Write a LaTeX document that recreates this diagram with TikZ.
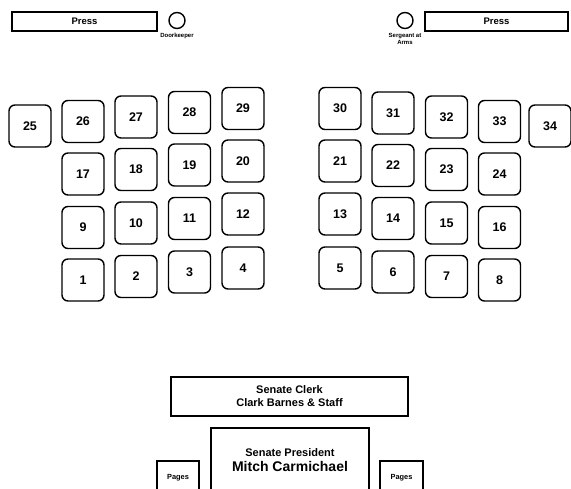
\documentclass[tikz,border=0pt]{standalone}
\usepackage{fontspec}
\setmainfont{Liberation Sans}
\usepackage{tikz}
\usetikzlibrary{positioning}

\begin{document}
\begin{tikzpicture}[x=1pt, y=-1pt,
        seat/.style={rectangle, draw=black, line width=1.4pt, rounded corners=6pt, minimum width=42pt, minimum height=42pt, inner sep=0pt, font=\fontsize{12.5}{14}\selectfont\bfseries},
        press/.style={rectangle, draw=black, line width=1.6pt, minimum height=19pt, inner sep=0pt, font=\fontsize{9.5}{11}\selectfont\bfseries},
        guard/.style={circle, draw=black, line width=1.4pt, minimum size=16pt, inner sep=0pt},
        tag/.style={align=center, inner sep=0pt, font=\fontsize{6}{6.5}\selectfont\bfseries},
        desk/.style={rectangle, draw=black, line width=1.4pt, align=center, inner sep=0pt, font=\bfseries}]

        \useasboundingbox (0,0) rectangle (571,489);

        \node [press, minimum width=145pt] (pressl) at (84.5,21.5) {Press};
        \node [press, minimum width=143pt] (pressr) at (496.5,21.5) {Press};
        \node [guard] (door) at (177,20.5) {};
        \node [tag, below=4pt of door] (doortag) {Doorkeeper};
        \node [guard] (sarms) at (405,20.5) {};
        \node [tag, below=4pt of sarms] (sarmstag) {Sergeant at\\Arms};

        \node [seat] (s25) at (30,126) {25};
        \node [seat] (s26) at (83,121.5) {26};
        \node [seat] (s27) at (136,117) {27};
        \node [seat] (s28) at (189.5,112.5) {28};
        \node [seat] (s29) at (243,108.5) {29};
        \node [seat] (s17) at (83,174) {17};
        \node [seat] (s18) at (136,169.5) {18};
        \node [seat] (s19) at (189.5,165) {19};
        \node [seat] (s20) at (243,161) {20};
        \node [seat] (s9) at (83,227.5) {9};
        \node [seat] (s10) at (136,223) {10};
        \node [seat] (s11) at (189.5,218.5) {11};
        \node [seat] (s12) at (243,214) {12};
        \node [seat] (s1) at (83,280) {1};
        \node [seat] (s2) at (136,276.5) {2};
        \node [seat] (s3) at (189.5,272) {3};
        \node [seat] (s4) at (243,268) {4};

        \node [seat] (s30) at (340,108.5) {30};
        \node [seat] (s31) at (393,113) {31};
        \node [seat] (s32) at (446.5,117) {32};
        \node [seat] (s33) at (499.5,121.5) {33};
        \node [seat] (s34) at (550,126) {34};
        \node [seat] (s21) at (340,161) {21};
        \node [seat] (s22) at (393,165.5) {22};
        \node [seat] (s23) at (446.5,169.5) {23};
        \node [seat] (s24) at (499.5,174) {24};
        \node [seat] (s13) at (340,214) {13};
        \node [seat] (s14) at (393,218.5) {14};
        \node [seat] (s15) at (446.5,223) {15};
        \node [seat] (s16) at (499.5,227.5) {16};
        \node [seat] (s5) at (340,268) {5};
        \node [seat] (s6) at (393,272) {6};
        \node [seat] (s7) at (446.5,276.5) {7};
        \node [seat] (s8) at (499.5,280) {8};

        \node [desk, minimum width=237pt, minimum height=39pt, font=\fontsize{11}{13}\selectfont\bfseries] (clerk) at (289.5,396.5) {Senate Clerk\\Clark Barnes \& Staff};
        \node [desk, minimum width=158pt, minimum height=65pt] (president) at (290,460.5) {{\fontsize{11}{13}\selectfont Senate President}\\[3pt]{\fontsize{14}{16}\selectfont Mitch Carmichael}};
        \node [desk, minimum width=42pt, minimum height=34pt, font=\fontsize{7.4}{9}\selectfont\bfseries] (pagesl) at (178,478) {Pages};
        \node [desk, minimum width=43pt, minimum height=34pt, font=\fontsize{7.4}{9}\selectfont\bfseries] (pagesr) at (401.5,478) {Pages};
    \end{tikzpicture}
\end{document}
